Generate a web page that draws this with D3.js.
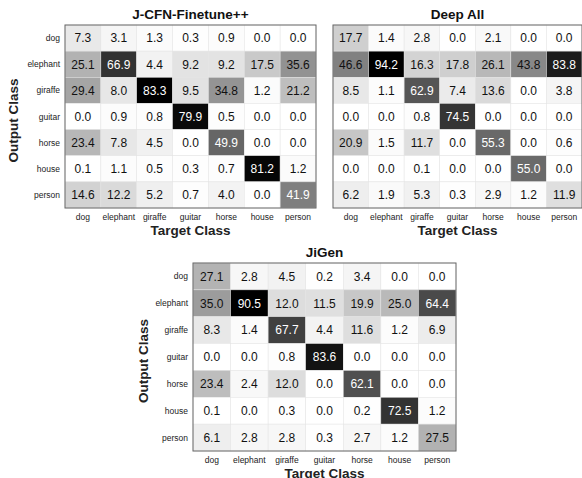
<!DOCTYPE html>
<html>
<head>
<meta charset="utf-8">
<script src="https://cdn.jsdelivr.net/npm/d3@7"></script>
<style>
  body { margin: 0; background: #fff; }
  svg { display: block; font-family: "Liberation Sans", Arial, Helvetica, sans-serif; }
</style>
</head>
<body>
<svg id="chart" width="582" height="478"></svg>
<script>
  'use strict';

  // class labels (same for rows = output, columns = target)
  var classes = ['dog', 'elephant', 'giraffe', 'guitar', 'horse', 'house', 'person'];

  // J-CFN-Finetune++ ; rows = output class, cols = target class
  var jcfnValues = [
    [7.3, 3.1, 1.3, 0.3, 0.9, 0.0, 0.0],
    [25.1, 66.9, 4.4, 9.2, 9.2, 17.5, 35.6],
    [29.4, 8.0, 83.3, 9.5, 34.8, 1.2, 21.2],
    [0.0, 0.9, 0.8, 79.9, 0.5, 0.0, 0.0],
    [23.4, 7.8, 4.5, 0.0, 49.9, 0.0, 0.0],
    [0.1, 1.1, 0.5, 0.3, 0.7, 81.2, 1.2],
    [14.6, 12.2, 5.2, 0.7, 4.0, 0.0, 41.9]
  ];

  // Deep All
  var deepAllValues = [
    [17.7, 1.4, 2.8, 0.0, 2.1, 0.0, 0.0],
    [46.6, 94.2, 16.3, 17.8, 26.1, 43.8, 83.8],
    [8.5, 1.1, 62.9, 7.4, 13.6, 0.0, 3.8],
    [0.0, 0.0, 0.8, 74.5, 0.0, 0.0, 0.0],
    [20.9, 1.5, 11.7, 0.0, 55.3, 0.0, 0.6],
    [0.0, 0.0, 0.1, 0.0, 0.0, 55.0, 0.0],
    [6.2, 1.9, 5.3, 0.3, 2.9, 1.2, 11.9]
  ];

  // JiGen
  var jigenValues = [
    [27.1, 2.8, 4.5, 0.2, 3.4, 0.0, 0.0],
    [35.0, 90.5, 12.0, 11.5, 19.9, 25.0, 64.4],
    [8.3, 1.4, 67.7, 4.4, 11.6, 1.2, 6.9],
    [0.0, 0.0, 0.8, 83.6, 0.0, 0.0, 0.0],
    [23.4, 2.4, 12.0, 0.0, 62.1, 0.0, 0.0],
    [0.1, 0.0, 0.3, 0.0, 0.2, 72.5, 1.2],
    [6.1, 2.8, 2.8, 0.3, 2.7, 1.2, 27.5]
  ];

  var svg = d3.select('#chart');

  /**
   * draws one confusion matrix panel
   */
  function drawMatrix(opts) {
    var x = d3.scaleBand().domain(classes).range([opts.x, opts.x + opts.w]);
    var y = d3.scaleBand().domain(classes).range([opts.y, opts.y + opts.h]);
    var vmax = d3.max(opts.values, r => d3.max(r));
    var color = d3.scaleLinear().domain([0, vmax]).range(['#ffffff', '#000000']).clamp(true);

    var g = svg.append('g');

    var cells = [];
    opts.values.forEach((row, i) => row.forEach((v, j) => {
      cells.push({row: classes[i], col: classes[j], v: v});
    }));

    g.selectAll('rect.cell').data(cells).enter().append('rect')
      .attr('class', 'cell')
      .attr('x', d => x(d.col))
      .attr('y', d => y(d.row))
      .attr('width', x.bandwidth())
      .attr('height', y.bandwidth())
      .attr('fill', d => color(d.v))
      .attr('stroke', '#e4e4e4')
      .attr('stroke-width', 0.5);

    g.selectAll('text.val').data(cells).enter().append('text')
      .attr('class', 'val')
      .attr('x', d => x(d.col) + x.bandwidth() / 2)
      .attr('y', d => y(d.row) + y.bandwidth() / 2 + 4.3)
      .attr('text-anchor', 'middle')
      .attr('font-size', 12)
      .attr('fill', d => d.v / vmax >= 0.5 ? '#ffffff' : '#111111')
      .text(d => d.v.toFixed(1));

    // frame
    g.append('rect')
      .attr('x', opts.x).attr('y', opts.y)
      .attr('width', opts.w).attr('height', opts.h)
      .attr('fill', 'none')
      .attr('stroke', '#666')
      .attr('stroke-width', 1);

    // row labels (only left-hand panels have them)
    if (opts.ylabel) {
      g.selectAll('text.rowlab').data(classes).enter().append('text')
        .attr('class', 'rowlab')
        .attr('x', opts.x - 5)
        .attr('y', d => y(d) + y.bandwidth() / 2 + 3)
        .attr('text-anchor', 'end')
        .attr('font-size', 8.5)
        .attr('fill', '#222')
        .text(d => d);
    }

    // column labels
    g.selectAll('text.collab').data(classes).enter().append('text')
      .attr('class', 'collab')
      .attr('x', d => x(d) + x.bandwidth() / 2)
      .attr('y', opts.y + opts.h + 12)
      .attr('text-anchor', 'middle')
      .attr('font-size', 8.5)
      .attr('fill', '#222')
      .text(d => d);

    // title
    g.append('text')
      .attr('x', opts.x + opts.w / 2)
      .attr('y', opts.y - 6)
      .attr('text-anchor', 'middle')
      .attr('font-size', 13.5)
      .attr('font-weight', 'bold')
      .attr('fill', '#111')
      .text(opts.title);

    g.append('text')
      .attr('x', opts.x + opts.w / 2)
      .attr('y', opts.y + opts.h + 27)
      .attr('text-anchor', 'middle')
      .attr('font-size', 13.5)
      .attr('font-weight', 'bold')
      .attr('fill', '#222')
      .text('Target Class');

    if (opts.ylabel) {
      g.append('text')
        .attr('transform', 'translate(' + opts.ylabelX + ',' + (opts.y + opts.h / 2 + 4) + ') rotate(-90)')
        .attr('text-anchor', 'middle')
        .attr('font-size', 13.5)
        .attr('font-weight', 'bold')
        .attr('fill', '#222')
        .text('Output Class');
    }
  }

  drawMatrix({title: 'J-CFN-Finetune++', values: jcfnValues, x: 65, y: 25, w: 251, h: 183, ylabel: true, ylabelX: 18});
  drawMatrix({title: 'Deep All', values: deepAllValues, x: 333, y: 25, w: 249, h: 183, ylabel: false});
  drawMatrix({title: 'JiGen', values: jigenValues, x: 193, y: 263, w: 263, h: 188, ylabel: true, ylabelX: 148});
</script>
</body>
</html>
